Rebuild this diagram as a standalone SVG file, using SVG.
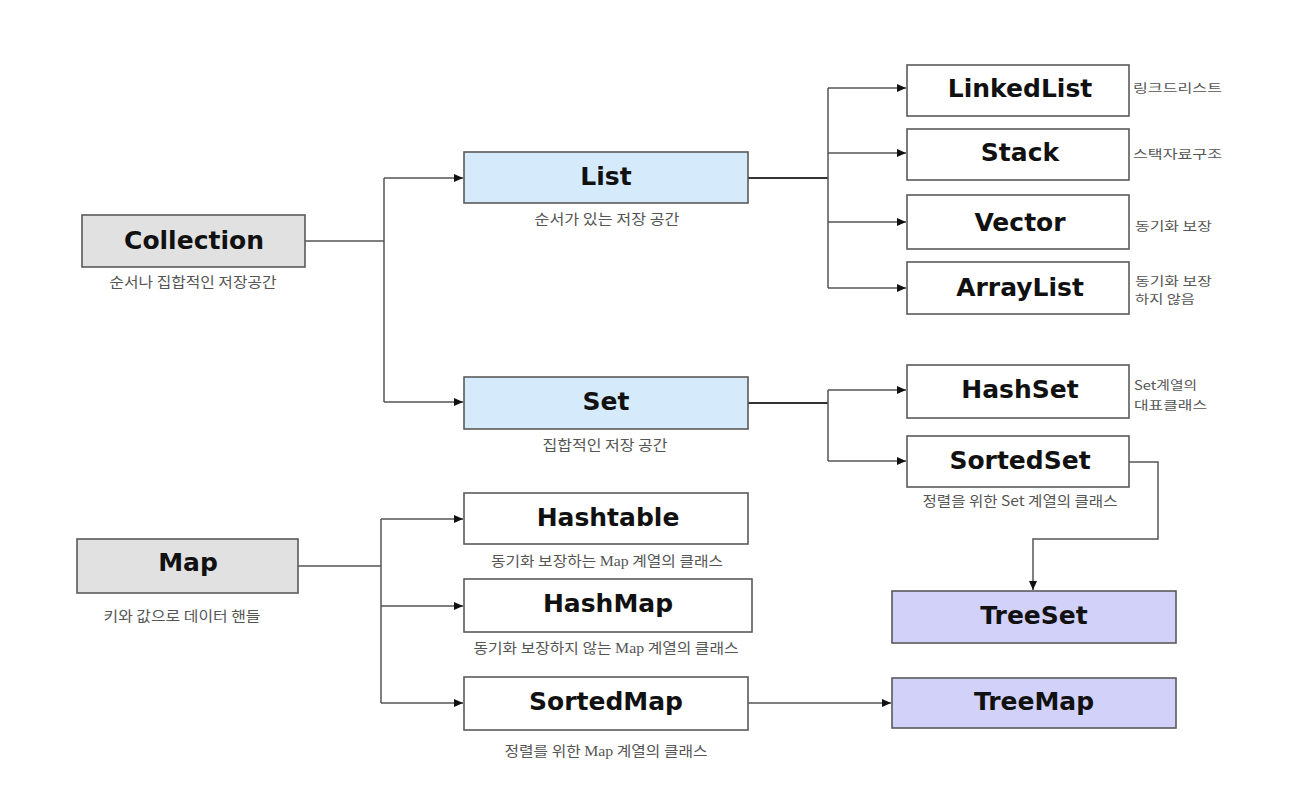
<svg xmlns="http://www.w3.org/2000/svg" width="1316" height="786" viewBox="0 0 1316 786">
<style>
.box{stroke:#5a5a5a;stroke-width:1.6}
.white{fill:#ffffff}
.gray{fill:#e1e1e1}
.blue{fill:#d5ebfb}
.lav{fill:#d1d1f9}
.t{font-family:"DejaVu Sans",Verdana,sans-serif;font-weight:bold;font-size:25px;fill:#111;text-anchor:middle}
.s{font-family:"Noto Sans CJK KR","Noto Sans",sans-serif;font-size:14px;fill:#555;text-anchor:middle}
.side{font-family:"Noto Sans CJK KR","Noto Sans",sans-serif;font-size:12.5px;fill:#555}
.serif{font-family:"Liberation Serif",serif;font-size:14px}
.c{fill:none;stroke:#555;stroke-width:1.5}
.c2{fill:none;stroke:#333;stroke-width:2}
</style>
<defs>
<marker id="arr" markerUnits="userSpaceOnUse" markerWidth="10" markerHeight="10" viewBox="0 0 10 10" refX="9" refY="5" orient="auto">
<path d="M0,1 L9,5 L0,9 Z" fill="#111"/>
</marker>
</defs>
<rect width="1316" height="786" fill="#ffffff"/>
<g id="connectors">
<path class="c" d="M305,241 H384"/>
<path class="c" d="M384,178 V402"/>
<path class="c" d="M384,178 H463" marker-end="url(#arr)"/>
<path class="c" d="M384,402 H463" marker-end="url(#arr)"/>
<path class="c2" d="M748,178 H828"/>
<path class="c" d="M828,88 V288"/>
<path class="c" d="M828,88 H906" marker-end="url(#arr)"/>
<path class="c" d="M828,153 H906" marker-end="url(#arr)"/>
<path class="c" d="M828,222 H906" marker-end="url(#arr)"/>
<path class="c" d="M828,288 H906" marker-end="url(#arr)"/>
<path class="c2" d="M748,403 H828"/>
<path class="c" d="M828,390 V461"/>
<path class="c" d="M828,390 H906" marker-end="url(#arr)"/>
<path class="c" d="M828,461 H906" marker-end="url(#arr)"/>
<path class="c" d="M1129,462 H1158 V539 H1033 V590" marker-end="url(#arr)"/>
<path class="c" d="M298,566 H381"/>
<path class="c" d="M381,519 V703"/>
<path class="c" d="M381,519 H463" marker-end="url(#arr)"/>
<path class="c" d="M381,606 H463" marker-end="url(#arr)"/>
<path class="c" d="M381,703 H463" marker-end="url(#arr)"/>
<path class="c" d="M748,703 H891" marker-end="url(#arr)"/>
</g>
<g id="collection">
<rect class="box gray" x="82" y="215" width="223" height="52"/>
<text class="t" x="194" y="249">Collection</text>
<text class="s" x="193" y="287" textLength="167" lengthAdjust="spacingAndGlyphs">순서나 집합적인 저장공간</text>
</g>
<g id="list">
<rect class="box blue" x="464" y="152" width="284" height="51"/>
<text class="t" x="606" y="185">List</text>
<text class="s" x="607" y="224" textLength="145" lengthAdjust="spacingAndGlyphs">순서가 있는 저장 공간</text>
</g>
<g id="set">
<rect class="box blue" x="464" y="377" width="284" height="52"/>
<text class="t" x="606" y="410">Set</text>
<text class="s" x="605" y="450" textLength="125" lengthAdjust="spacingAndGlyphs">집합적인 저장 공간</text>
</g>
<g id="linkedlist">
<rect class="box white" x="907" y="65" width="222" height="51"/>
<text class="t" x="1020" y="97">LinkedList</text>
<text class="side" x="1133" y="93" textLength="89" lengthAdjust="spacingAndGlyphs">링크드리스트</text>
</g>
<g id="stack">
<rect class="box white" x="907" y="129" width="222" height="51"/>
<text class="t" x="1020" y="161">Stack</text>
<text class="side" x="1133" y="159" textLength="89" lengthAdjust="spacingAndGlyphs">스택자료구조</text>
</g>
<g id="vector">
<rect class="box white" x="907" y="195" width="222" height="54"/>
<text class="t" x="1020" y="231">Vector</text>
<text class="side" x="1135" y="231" textLength="77" lengthAdjust="spacingAndGlyphs">동기화 보장</text>
</g>
<g id="arraylist">
<rect class="box white" x="907" y="262" width="222" height="52"/>
<text class="t" x="1020" y="296">ArrayList</text>
<text class="side" x="1135" y="286" textLength="77" lengthAdjust="spacingAndGlyphs">동기화 보장</text>
<text class="side" x="1135" y="304" textLength="60" lengthAdjust="spacingAndGlyphs">하지 않음</text>
</g>
<g id="hashset">
<rect class="box white" x="907" y="365" width="222" height="53"/>
<text class="t" x="1020" y="398">HashSet</text>
<text class="side" x="1134" y="390" textLength="63" lengthAdjust="spacingAndGlyphs">Set계열의</text>
<text class="side" x="1134" y="410" textLength="73" lengthAdjust="spacingAndGlyphs">대표클래스</text>
</g>
<g id="sortedset">
<rect class="box white" x="907" y="436" width="222" height="51"/>
<text class="t" x="1020" y="469">SortedSet</text>
<text class="s" x="1020" y="506" textLength="195" lengthAdjust="spacingAndGlyphs">정렬을 위한 Set 계열의 클래스</text>
</g>
<g id="treeset">
<rect class="box lav" x="892" y="591" width="284" height="52"/>
<text class="t" x="1034" y="624">TreeSet</text>
</g>
<g id="map">
<rect class="box gray" x="77" y="539" width="221" height="54"/>
<text class="t" x="188" y="571">Map</text>
<text class="s" x="182" y="621" textLength="157" lengthAdjust="spacingAndGlyphs">키와 값으로 데이터 핸들</text>
</g>
<g id="hashtable">
<rect class="box white" x="464" y="493" width="284" height="51"/>
<text class="t" x="608" y="526">Hashtable</text>
<text class="s" x="607" y="566" textLength="232" lengthAdjust="spacingAndGlyphs">동기화 보장하는 <tspan class="serif">Map</tspan> 계열의 클래스</text>
</g>
<g id="hashmap">
<rect class="box white" x="464" y="579" width="288" height="53"/>
<text class="t" x="608" y="612">HashMap</text>
<text class="s" x="606" y="653" textLength="265" lengthAdjust="spacingAndGlyphs">동기화 보장하지 않는 <tspan class="serif">Map</tspan> 계열의 클래스</text>
</g>
<g id="sortedmap">
<rect class="box white" x="464" y="677" width="284" height="53"/>
<text class="t" x="606" y="710">SortedMap</text>
<text class="s" x="606" y="756" textLength="203" lengthAdjust="spacingAndGlyphs">정렬를 위한 <tspan class="serif">Map</tspan> 계열의 클래스</text>
</g>
<g id="treemap">
<rect class="box lav" x="892" y="678" width="284" height="50"/>
<text class="t" x="1034" y="710">TreeMap</text>
</g>
</svg>
